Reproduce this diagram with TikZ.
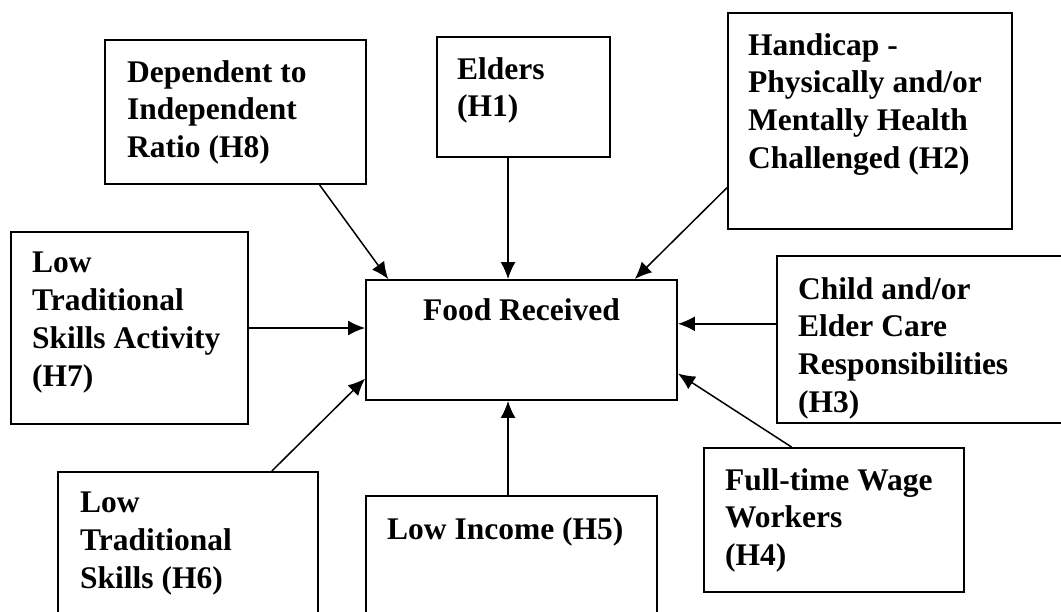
\documentclass[tikz,border=0pt]{standalone}
\usepackage{fontspec}
\setmainfont{Liberation Serif}
\usetikzlibrary{arrows.meta, calc}

\tikzset{
	factor/.style = {draw, line width = 1.9pt, inner sep = 0pt},
	boxtext/.style = {anchor = north west, inner sep = 0pt, align = left, font = \fontsize{31.5}{37.8}\selectfont\bfseries},
	link/.style = {->, line width = 1.5pt}
}

\begin{document}

\begin{tikzpicture}[> = {Latex[length = 17pt, width = 15pt]}, x = 1pt, y = -1pt]

	% Frame (boxes at the border run off the page)

	\clip (0, 0) rectangle (1061, 611);

	% Boxes

	\node [factor, minimum width = 261pt, minimum height = 144pt] (ratio) at (235.5, 112) {};
	\node [factor, minimum width = 173pt, minimum height = 120pt] (elders) at (523.5, 97) {};
	\node [factor, minimum width = 284pt, minimum height = 216pt] (handicap) at (870, 121) {};
	\node [factor, minimum width = 237pt, minimum height = 192pt] (activity) at (129.5, 328) {};
	\node [factor, minimum width = 311pt, minimum height = 120pt] (food) at (521.5, 340) {};
	\node [factor, minimum width = 298pt, minimum height = 167pt] (care) at (926, 339.5) {};
	\node [factor, minimum width = 260pt, minimum height = 153pt] (skills) at (188, 548.5) {};
	\node [factor, minimum width = 291pt, minimum height = 129pt] (income) at (511.5, 560.5) {};
	\node [factor, minimum width = 260pt, minimum height = 144pt] (wage) at (834, 520) {};

	% Texts

	\node [boxtext] (ratiotext) at (127, 60) {Dependent to\\Independent\\Ratio (H8)};
	\node [boxtext] (elderstext) at (457, 57) {Elders\\(H1)};
	\node [boxtext] (handicaptext) at (748, 33) {Handicap -\\Physically and/or\\Mentally Health\\Challenged (H2)};
	\node [boxtext] (activitytext) at (32, 252) {Low\\Traditional\\Skills Activity\\(H7)};
	\node [boxtext, anchor = north, align = center] (foodtext) at (521.5, 298) {Food Received};
	\node [boxtext] (caretext) at (798, 277) {Child and/or\\Elder Care\\Responsibilities\\(H3)};
	\node [boxtext] (skillstext) at (80, 492) {Low\\Traditional\\Skills (H6)};
	\node [boxtext] (incometext) at (387, 517) {Low Income (H5)};
	\node [boxtext] (wagetext) at (725, 468) {Full-time Wage\\Workers\\(H4)};

	% Points on the border of Food Received

	\coordinate (foodtop) at ($(food.north west)!0.457!(food.north east)$);
	\coordinate (foodbottom) at ($(food.south west)!0.457!(food.south east)$);
	\coordinate (foodright) at ($(food.north east)!0.367!(food.south east)$);

	% Arrows

	\begin{scope}[link]

		\draw ($(ratio.south west)!0.82!(ratio.south east)$) -- ($(food.north west)!0.074!(food.north east)$);
		\draw (elders.south -| foodtop) -- (foodtop);
		\draw ($(handicap.north west)!0.806!(handicap.south west)$) -- ($(food.north west)!0.862!(food.north east)$);
		\draw (activity.east) -- (activity.east -| food.west);
		\draw (care.west |- foodright) -- (foodright);
		\draw ($(wage.north west)!0.338!(wage.north east)$) -- ($(food.north east)!0.775!(food.south east)$);
		\draw (income.north -| foodbottom) -- (foodbottom);
		\draw ($(skills.north west)!0.82!(skills.north east)$) -- ($(food.north west)!0.817!(food.south west)$);

	\end{scope}

\end{tikzpicture}

\end{document}
